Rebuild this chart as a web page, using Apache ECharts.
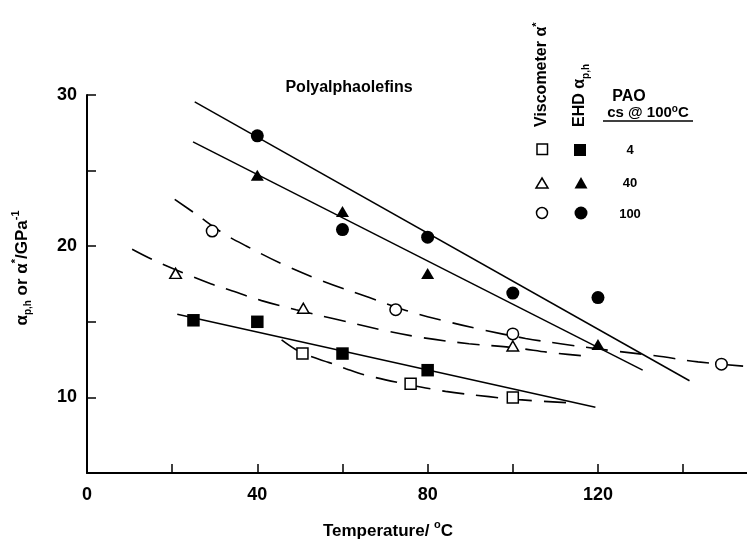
<!DOCTYPE html>
<html>
<head>
<meta charset="utf-8">
<title>Polyalphaolefins pressure-viscosity coefficient</title>
<script src="https://cdn.jsdelivr.net/npm/echarts@6/dist/echarts.min.js"></script>
<style>
  html, body { margin: 0; padding: 0; background: #fff; }
  #chart { width: 747px; height: 540px; }
</style>
</head>
<body>
<div id="chart"></div>
<script>
// Tick labels shown on each axis
const xTickLabels = [0, 40, 80, 120];
const yTickLabels = [10, 20, 30];

// EHD alpha(p,h) measurements [temperature °C, GPa^-1]
const ehdPao4   = [[25, 15.1], [40, 15.0], [60, 12.9], [80, 11.8]];
const ehdPao40  = [[40, 24.7], [60, 22.3], [80, 18.2], [120, 13.5]];
const ehdPao100 = [[40, 27.3], [60, 21.1], [80, 20.6], [100, 16.9], [120, 16.6]];

// Viscometer alpha* measurements
const viscPao4   = [[50.6, 12.9], [76, 10.9], [100, 10.0]];
const viscPao40  = [[20.8, 18.2], [50.8, 15.9], [100, 13.4]];
const viscPao100 = [[29.4, 21.0], [72.5, 15.8], [100, 14.2], [149, 12.2]];

// Straight fits through the EHD data (end points)
const fitPao4   = [[21.2, 15.5], [119.4, 9.35]];
const fitPao40  = [[24.9, 26.9], [130.5, 11.8]];
const fitPao100 = [[25.3, 29.55], [141.5, 11.1]];

// Dashed trend curves through the viscometer data
const curvePao4 = [[45.7, 13.8], [49.1, 13.15], [52.6, 12.7], [56.9, 12.3], [60.8, 11.9], [65.1, 11.5],
  [73.7, 10.95], [84.2, 10.4], [94.4, 10.05], [101.4, 9.85], [112.7, 9.65]];
const curvePao40 = [[10.6, 19.8], [15.5, 19.1], [22.9, 18.2], [29.2, 17.5], [33.5, 17.1], [41, 16.4],
  [49.1, 15.8], [58, 15.2], [69.4, 14.45], [78.8, 13.95], [89.7, 13.55], [100, 13.3], [109.2, 12.95], [118.5, 12.7]];
const curvePao100 = [[20.6, 23.1], [25.7, 22.1], [32, 20.85], [37.5, 20.0], [46, 18.8], [55.3, 17.7],
  [66.3, 16.6], [74.9, 15.75], [83.4, 15.1], [92.4, 14.5], [103, 13.9], [111.2, 13.55], [123, 13.1],
  [133.5, 12.75], [143.5, 12.35], [155, 12.05]];

const FONT = '"Liberation Sans", Arial, Helvetica, sans-serif';
const INK = '#000';

const chart = echarts.init(document.getElementById('chart'), null, { renderer: 'canvas' });

function fitLine(data) {
  return { type: 'line', data, showSymbol: false, symbol: 'none', silent: true, z: 2,
    lineStyle: { color: INK, width: 1.5, type: 'solid' } };
}
function dashCurve(data) {
  return { type: 'line', data, smooth: 0.35, showSymbol: false, symbol: 'none', silent: true, z: 2,
    lineStyle: { color: INK, width: 1.6, type: [22, 12] } };
}
function filled(data, symbol, size) {
  return { type: 'scatter', data, symbol, symbolSize: size, z: 4,
    itemStyle: { color: INK, opacity: 1 } };
}
function hollow(data, symbol, size) {
  return { type: 'scatter', data, symbol, symbolSize: size, z: 4,
    itemStyle: { color: '#fff', borderColor: INK, borderWidth: 1.5, opacity: 1 } };
}

function richText(size) {
  return {
    a:   { fontFamily: FONT, fontWeight: 'bold', fontSize: size, lineHeight: size + 6, fill: INK, color: INK },
    sub: { fontFamily: FONT, fontWeight: 'bold', fontSize: 10, lineHeight: 11, verticalAlign: 'bottom', fill: INK, color: INK },
    sup: { fontFamily: FONT, fontWeight: 'bold', fontSize: 11, lineHeight: 11, verticalAlign: 'top', fill: INK, color: INK }
  };
}

const option = {
  animation: false,
  backgroundColor: '#fff',
  grid: { left: 87, right: 0, top: 95, bottom: 67 },
  xAxis: {
    type: 'value', min: 0, max: 155, interval: 20,
    axisLine: { show: true, onZero: false, lineStyle: { color: INK, width: 2 } },
    axisTick: { show: true, inside: true, length: 9, lineStyle: { color: INK, width: 1.5 } },
    axisLabel: {
      showMaxLabel: false, margin: 13,
      formatter: v => (xTickLabels.includes(v) ? String(v) : ''),
      color: INK, fontFamily: FONT, fontWeight: 'bold', fontSize: 18
    },
    splitLine: { show: false }
  },
  yAxis: {
    type: 'value', min: 5, max: 30, interval: 5,
    axisLine: { show: true, onZero: false, lineStyle: { color: INK, width: 2 } },
    axisTick: { show: true, inside: true, length: 9, lineStyle: { color: INK, width: 1.5 } },
    axisLabel: {
      margin: 10,
      formatter: v => (yTickLabels.includes(v) ? String(v) : ''),
      color: INK, fontFamily: FONT, fontWeight: 'bold', fontSize: 18
    },
    splitLine: { show: false }
  },
  series: [
    fitLine(fitPao100), fitLine(fitPao40), fitLine(fitPao4),
    dashCurve(curvePao100), dashCurve(curvePao40), dashCurve(curvePao4),
    filled(ehdPao4, 'rect', 12.5),
    filled(ehdPao40, 'triangle', [13, 11]),
    filled(ehdPao100, 'circle', 13),
    hollow(viscPao4, 'rect', 11),
    hollow(viscPao40, 'triangle', [11.5, 10]),
    hollow(viscPao100, 'circle', 11.5)
  ],
  graphic: [
    // plot heading
    { type: 'text', x: 349, y: 88, z: 10,
      style: { text: 'Polyalphaolefins', fill: INK, font: 'bold 16px ' + FONT, align: 'center', verticalAlign: 'middle' } },
    // x axis title
    { type: 'text', x: 388, y: 531, z: 10,
      style: { text: '{a|Temperature/ }{sup|o}{a|C}', rich: richText(17), align: 'center', verticalAlign: 'middle' } },
    // y axis title
    { type: 'text', x: 22, y: 268, rotation: Math.PI / 2, z: 10,
      style: { text: '{a|α}{sub|p,h}{a| or α}{sup|*}{a|/GPa}{sup|-1}', rich: richText(17), align: 'center', verticalAlign: 'middle' } },
    // key: column headings
    { type: 'text', x: 542, y: 127, rotation: Math.PI / 2, z: 10,
      style: { text: '{a|Viscometer α}{sup|*}', rich: richText(16), align: 'left', verticalAlign: 'middle' } },
    { type: 'text', x: 580, y: 127, rotation: Math.PI / 2, z: 10,
      style: { text: '{a|EHD α}{sub|p,h}', rich: richText(16), align: 'left', verticalAlign: 'middle' } },
    { type: 'text', x: 629, y: 97, z: 10,
      style: { text: 'PAO', fill: INK, font: 'bold 16px ' + FONT, align: 'center', verticalAlign: 'middle' } },
    { type: 'text', x: 648, y: 113, z: 10,
      style: {
        text: '{b|cs @ 100}{s|o}{b|C}', align: 'center', verticalAlign: 'middle',
        rich: {
          b: { fontFamily: FONT, fontWeight: 'bold', fontSize: 15, lineHeight: 18, fill: INK },
          s: { fontFamily: FONT, fontWeight: 'bold', fontSize: 10, lineHeight: 10, verticalAlign: 'top', fill: INK }
        }
      } },
    { type: 'line', z: 10, shape: { x1: 603, y1: 121, x2: 693, y2: 121 }, style: { stroke: INK, lineWidth: 1.5 } },
    // key: symbols
    { type: 'rect', z: 10, shape: { x: 537, y: 144, width: 10.5, height: 10.5 }, style: { fill: '#fff', stroke: INK, lineWidth: 1.5 } },
    { type: 'rect', z: 10, shape: { x: 574, y: 144, width: 12, height: 12 }, style: { fill: INK } },
    { type: 'polygon', z: 10, shape: { points: [[542, 178], [548, 188], [536, 188]] }, style: { fill: '#fff', stroke: INK, lineWidth: 1.5 } },
    { type: 'polygon', z: 10, shape: { points: [[581, 177], [587.5, 188.5], [574.5, 188.5]] }, style: { fill: INK } },
    { type: 'circle', z: 10, shape: { cx: 542, cy: 213, r: 5.5 }, style: { fill: '#fff', stroke: INK, lineWidth: 1.5 } },
    { type: 'circle', z: 10, shape: { cx: 581, cy: 213, r: 6.5 }, style: { fill: INK } },
    // key: PAO grades
    { type: 'text', x: 630, y: 150, z: 10, style: { text: '4', fill: INK, font: 'bold 13px ' + FONT, align: 'center', verticalAlign: 'middle' } },
    { type: 'text', x: 630, y: 183, z: 10, style: { text: '40', fill: INK, font: 'bold 13px ' + FONT, align: 'center', verticalAlign: 'middle' } },
    { type: 'text', x: 630, y: 214, z: 10, style: { text: '100', fill: INK, font: 'bold 13px ' + FONT, align: 'center', verticalAlign: 'middle' } }
  ]
};

chart.setOption(option);
</script>
</body>
</html>
